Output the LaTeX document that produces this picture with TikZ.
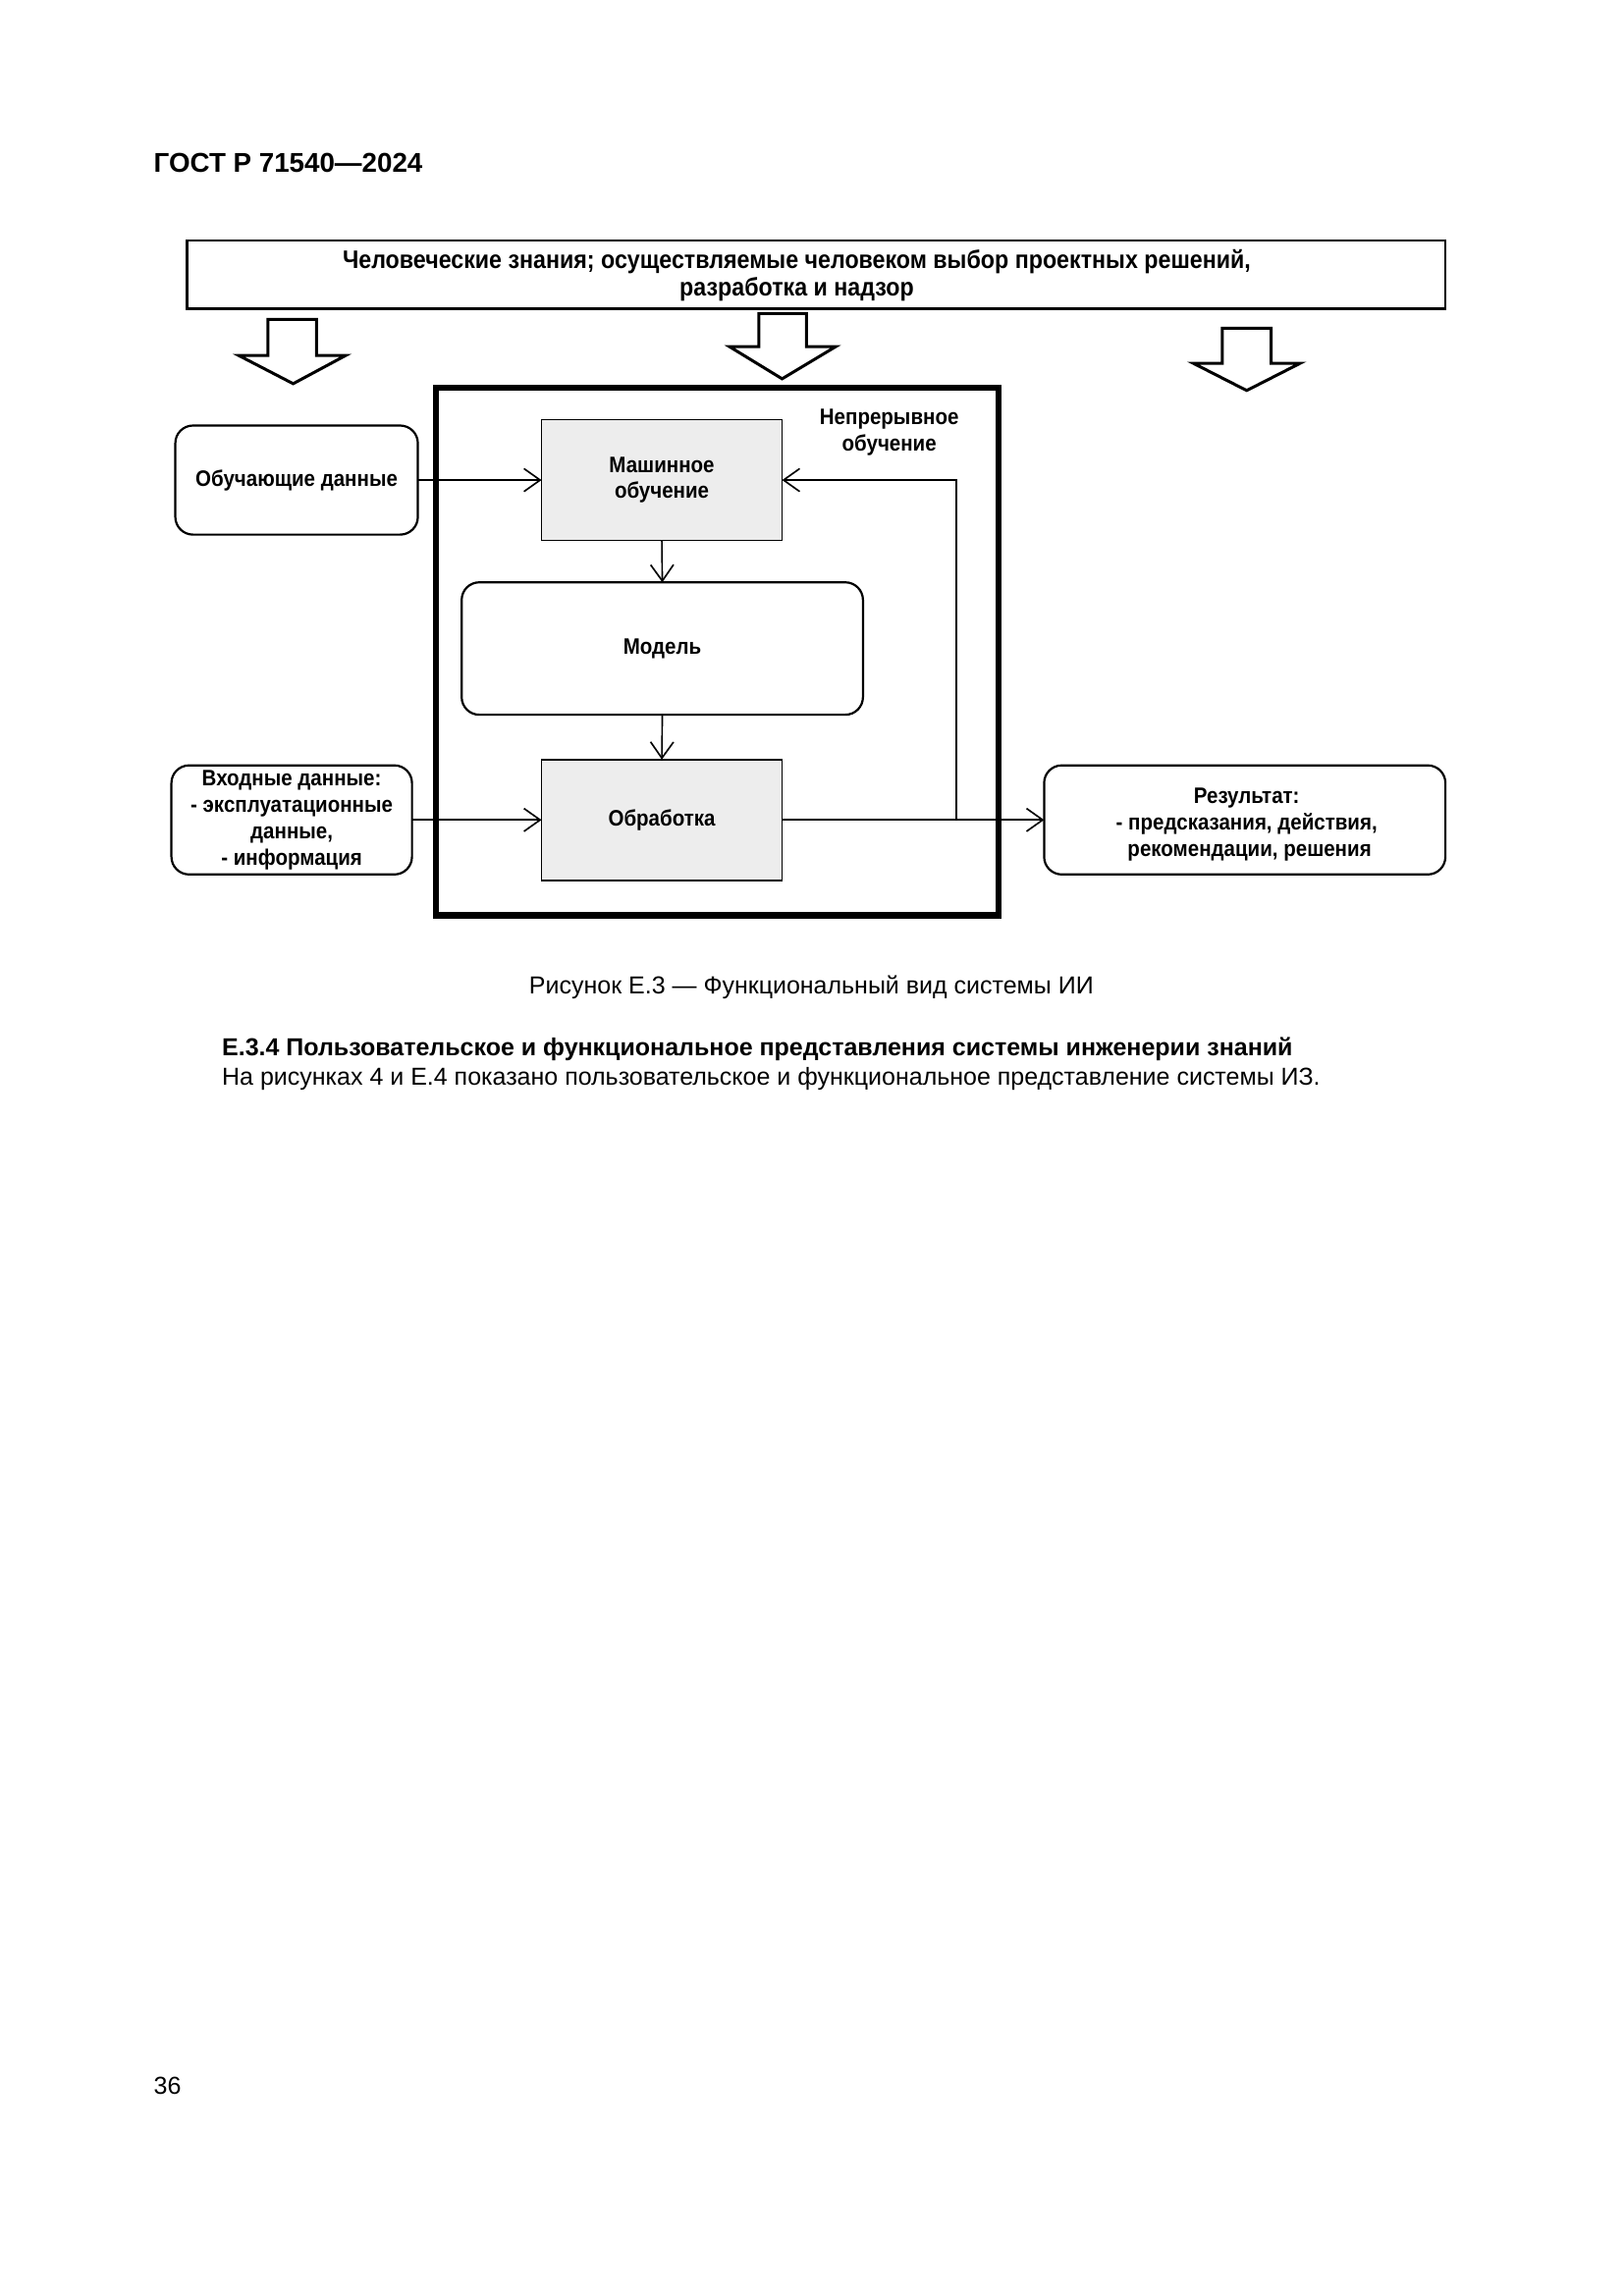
\documentclass[tikz,border=0pt]{standalone}
\usepackage{fontspec}
\setmainfont{Liberation Sans}
\newfontfamily\dfont[FakeStretch=0.9]{Liberation Sans}
\usetikzlibrary{arrows.meta,positioning}
\begin{document}
\begin{tikzpicture}[x=0.0127cm,y=-0.0127cm,
  every node/.style={inner sep=0pt,outer sep=0pt},
  dtext/.style={font=\dfont\fontsize{8.3}{9.8}\selectfont\bfseries,align=center},
  plainbox/.style={draw,line width=0.6pt},
  graybox/.style={draw,line width=0.6pt,fill=black!7,dtext,minimum width=247*0.0127cm,minimum height=124*0.0127cm},
  roundbox/.style={draw,line width=0.8pt,rounded corners=0.23cm,dtext},
  conn/.style={line width=0.6pt,-{Straight Barb[length=6pt,width=8.5pt,line width=0.6pt]}},
  hollow/.style={draw,line width=1.1pt,line join=miter,fill=white},
  ptext/.style={font=\fontsize{9.1}{11}\selectfont}]
\useasboundingbox (0,0) rectangle (1667.3,2357.9);
\fill[white] (0,0) rectangle (1667.3,2357.9);

% page text
\node[anchor=base west,font=\fontsize{10.1}{12}\selectfont\bfseries] (hdr) at (158,177) {ГОСТ Р 71540—2024};
\node[anchor=base,ptext] (cap) at (833,1021) {Рисунок Е.3 — Функциональный вид системы ИИ};
\node[anchor=base west,ptext,font=\fontsize{9.1}{11}\selectfont\bfseries] (sec) at (228,1084) {Е.3.4 Пользовательское и функциональное представления системы инженерии знаний};
\node[anchor=base west,ptext] (body) at (228,1114) {На рисунках 4 и Е.4 показано пользовательское и функциональное представление системы ИЗ.};
\node[anchor=base west,ptext] (pg) at (158,2151) {36};

% top box
\node[plainbox,line width=0.8pt,minimum width=1292*0.0127cm,minimum height=70*0.0127cm] (top) at (838,282) {};
\node[font=\dfont\fontsize{9.4}{10.4}\selectfont\bfseries,align=center] (toptext) at (818,283)
  {Человеческие знания; осуществляемые человеком выбор проектных решений,\\разработка и надзор};

% hollow arrows
\draw[hollow] (275,328) -- (325,328) -- (325,365) -- (355,365) -- (301,394) -- (245,365) -- (275,365) -- cycle;
\draw[hollow] (779,322) -- (828,322) -- (828,356) -- (858,356) -- (803,389) -- (749,356) -- (779,356) -- cycle;
\draw[hollow] (1255,337) -- (1305,337) -- (1305,373) -- (1335,373) -- (1280,401) -- (1225,373) -- (1255,373) -- cycle;

% outer thick frame
\node[draw,line width=2.2pt,minimum width=577*0.0127cm,minimum height=542*0.0127cm] (outer) at (736.5,669) {};

% inner boxes
\node[graybox] (ml) at (679.5,493) {Машинное\\обучение};
\node[roundbox,minimum width=412*0.0127cm,minimum height=136*0.0127cm] (model) at (680,666) {Модель};
\node[graybox] (proc) at (679.5,842) {Обработка};
\node[dtext,anchor=center] (cl) at (913,444) {Непрерывное\\обучение};

% outside boxes
\node[roundbox,minimum width=249*0.0127cm,minimum height=112*0.0127cm] (train) at (304.5,493) {Обучающие данные};
\node[roundbox,minimum width=247*0.0127cm,minimum height=112*0.0127cm] (inp) at (299.5,842) {Входные данные:\\- эксплуатационные\\данные,\\- информация};
\node[roundbox,minimum width=412*0.0127cm,minimum height=112*0.0127cm] (res) at (1278,842) {};
\node[dtext] (restext) at (1280,847) {Результат:\\- предсказания, действия,\\\ рекомендации, решения};

% connectors
\draw[conn] (train.east) -- (ml.west);
\draw[conn] (inp.east) -- (proc.west);
\draw[conn] (ml.south) -- (model.north);
\draw[conn] (model.south) -- (proc.north);
\draw[conn] (proc.east) -- (res.west);
\coordinate (fb) at (982,842);
\draw[conn] (fb) |- (ml.east);
\end{tikzpicture}
\end{document}
